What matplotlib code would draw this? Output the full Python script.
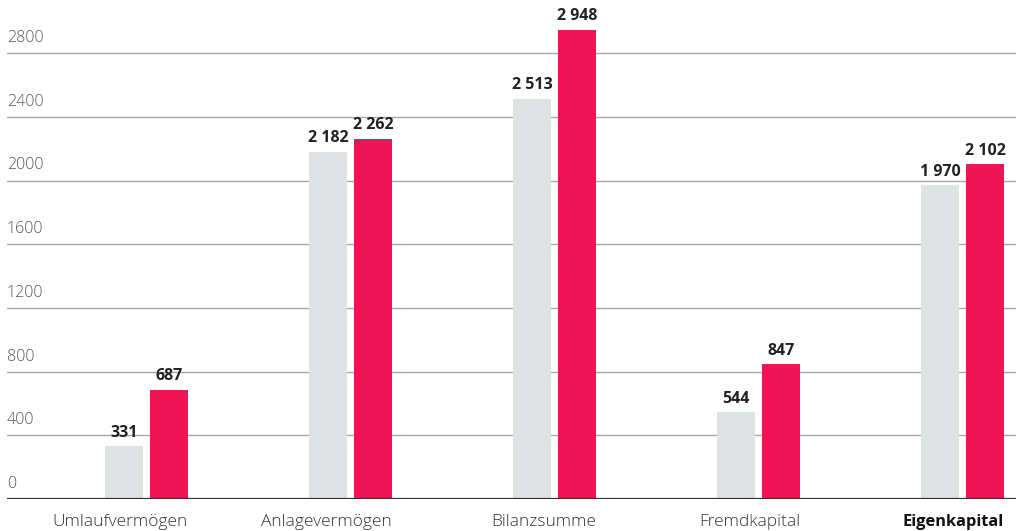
"""
Balance sheet comparison: grouped bars for two years
"""
import matplotlib.pyplot as plt
import numpy as np

categories = ['Umlaufvermögen', 'Anlagevermögen', 'Bilanzsumme', 'Fremdkapital', 'Eigenkapital']
values_prev = [331, 2182, 2513, 544, 1970]
values_curr = [687, 2262, 2948, 847, 2102]
yticks = [0, 400, 800, 1200, 1600, 2000, 2400, 2800]

GREY = '#e0e3e4'
RED = '#ee1556'
TEXT = '#222222'
FONT = ['Open Sans', 'DejaVu Sans']


def fmt(v):
    # space as thousands separator
    return f"{v:,}".replace(',', ' ')


fig = plt.figure(figsize=(10.16, 5.31), dpi=100)
ax = fig.add_axes([7 / 1016, 1 - 499 / 531, 1 - 7 / 1016, 499 / 531])

x = np.arange(len(categories))
width = 0.186
offset = 0.110

bars_prev = ax.bar(x - offset, values_prev, width, color=GREY, zorder=2)
bars_curr = ax.bar(x + offset, values_curr, width, color=RED, zorder=2)

for bars, vals in ((bars_prev, values_prev), (bars_curr, values_curr)):
    for b, v in zip(bars, vals):
        ax.annotate(fmt(v), (b.get_x() + b.get_width() / 2, v),
                    xytext=(0, 4), textcoords='offset points',
                    ha='center', va='bottom', fontsize=11.5, fontweight='bold',
                    color=TEXT, family=FONT)

ax.set_xlim(-0.684, 4.262)
ax.set_ylim(0, 3135)

# gridlines with their labels sitting just above them
for t in yticks:
    if t > 0:
        ax.axhline(t, color='#a8a8a8', linewidth=1, zorder=1)
    ax.text(0, t + 45, str(t), transform=ax.get_yaxis_transform(),
            ha='left', va='bottom', fontsize=11.5, color='#555555',
            family=FONT, fontweight='light')

ax.axhline(0, color='#333333', linewidth=1.6, zorder=3)

# category names end at the right edge of each group
ax.set_xticks(x + offset + width / 2)
ax.set_xticklabels(categories, fontsize=12.5, color='#333333', family=FONT,
                   fontweight='light', ha='right')
last = ax.get_xticklabels()[-1]
last.set_fontweight('bold')
last.set_fontsize(11.8)
last.set_color('#111111')
ax.tick_params(axis='x', length=0, pad=11)
ax.set_yticks([])

for s in ax.spines.values():
    s.set_visible(False)

fig.savefig('out.png', dpi=100, facecolor='white')
